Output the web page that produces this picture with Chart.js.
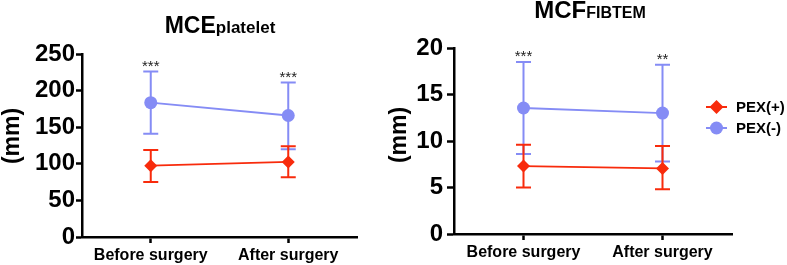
<!DOCTYPE html>
<html>
<head>
<meta charset="utf-8">
<script src="https://cdn.jsdelivr.net/npm/chart.js@4"></script>
<style>
  body { margin: 0; background: #fff; }
  #wrap { position: relative; width: 787px; height: 265px; overflow: hidden; }
  canvas { position: absolute; top: 0; }
  .ttl { position: absolute; text-align: center; font-family: "Liberation Sans", Arial, sans-serif; font-weight: bold; line-height: 1; color: #000; white-space: nowrap; }
  .ytl { position: absolute; width: 80px; height: 24px; margin-left: -40px; margin-top: -12px; text-align: center; transform: rotate(-90deg);
         font: bold 23px/24px "Liberation Sans", Arial, sans-serif; color: #000; }
</style>
</head>
<body>
<div id="wrap">
  <canvas id="plateletChart" width="390" height="265" style="left:0"></canvas>
  <canvas id="fibtemChart" width="407" height="265" style="left:380px"></canvas>
  <div class="ttl" style="left:0; width:440px; top:13.5px; font-size:23px">MCE<span style="font-size:17px">platelet</span></div>
  <div class="ttl" style="left:390px; width:400px; top:-2.5px; font-size:24px">MCF<span style="font-size:16px">FIBTEM</span></div>
  <div class="ytl" style="left:11px; top:136px">(mm)</div>
  <div class="ytl" style="left:397.5px; top:135px">(mm)</div>
</div>
<script>
const categories = ['Before surgery', 'After surgery'];
const seriesNames = ['PEX(+)', 'PEX(-)'];

// MCE platelet (mm)
const plateletPos = [97.5, 102.5];
const plateletPosHi = [119, 124];
const plateletPosLo = [75, 81.5];
const plateletNeg = [183.5, 166];
const plateletNegHi = [226, 211];
const plateletNegLo = [141, 120];
const plateletStars = ['***', '***'];
const plateletTicks = { max: 250, step: 50 };

// MCF FIBTEM (mm)
const fibtemPos = [7.3, 7.05];
const fibtemPosHi = [9.6, 9.45];
const fibtemPosLo = [5.0, 4.8];
const fibtemNeg = [13.55, 13.0];
const fibtemNegHi = [18.5, 18.2];
const fibtemNegLo = [8.6, 7.8];
const fibtemStars = ['***', '**'];
const fibtemTicks = { max: 20, step: 5 };

const RED = '#f82b0c';
const BLUE = '#858cf5';
const FONT = '"Liberation Sans", Arial, sans-serif';

// whiskers under the lines, stars over the PEX(-) bars
const errorBars = {
    id: 'errorBars',
    beforeDatasetsDraw(chart) {
        const ctx = chart.ctx;
        const xs = chart.scales.x, ys = chart.scales.y;
        ctx.save();
        for (let i = chart.data.datasets.length - 1; i >= 0; i--) {
            const ds = chart.data.datasets[i];
            ctx.strokeStyle = ds.borderColor;
            ctx.lineWidth = 2;
            ds.data.forEach((v, j) => {
                const px = xs.getPixelForValue(j);
                const top = ys.getPixelForValue(ds.errHi[j]);
                const bot = ys.getPixelForValue(ds.errLo[j]);
                ctx.beginPath();
                ctx.moveTo(px, top); ctx.lineTo(px, bot);
                ctx.moveTo(px - 7.5, top); ctx.lineTo(px + 7.5, top);
                ctx.moveTo(px - 7.5, bot); ctx.lineTo(px + 7.5, bot);
                ctx.stroke();
            });
        }
        ctx.restore();
    },
    afterDatasetsDraw(chart) {
        const ctx = chart.ctx;
        const xs = chart.scales.x, ys = chart.scales.y;
        const ds = chart.data.datasets[1];
        ctx.save();
        ctx.fillStyle = '#222';
        ctx.font = '15px ' + FONT;
        ctx.textAlign = 'center';
        ctx.textBaseline = 'alphabetic';
        ds.stars.forEach((s, j) => {
            ctx.fillText(s, xs.getPixelForValue(j), ys.getPixelForValue(ds.errHi[j]) - 1);
        });
        ctx.restore();
    }
};

// legend with line through marker, like the original
const sideLegend = {
    id: 'sideLegend',
    afterDraw(chart) {
        const ctx = chart.ctx;
        const x0 = 326, rows = [107, 128];
        ctx.save();
        chart.data.datasets.forEach((ds, i) => {
            const y = rows[i];
            ctx.strokeStyle = ds.borderColor;
            ctx.lineWidth = 2;
            ctx.beginPath();
            ctx.moveTo(x0, y); ctx.lineTo(x0 + 21, y);
            ctx.stroke();
            ctx.fillStyle = ds.borderColor;
            ctx.beginPath();
            if (i === 0) {
                ctx.moveTo(x0 + 10.5, y - 7); ctx.lineTo(x0 + 17.5, y);
                ctx.lineTo(x0 + 10.5, y + 7); ctx.lineTo(x0 + 3.5, y);
                ctx.closePath();
            } else {
                ctx.arc(x0 + 10.5, y, 6.5, 0, Math.PI * 2);
            }
            ctx.fill();
            ctx.fillStyle = '#000';
            ctx.font = 'bold 15px ' + FONT;
            ctx.textBaseline = 'middle';
            ctx.fillText(seriesNames[i], x0 + 30, y + 1);
        });
        ctx.restore();
    }
};

function buildChart(id, pos, posHi, posLo, neg, negHi, negLo, stars, ticks, box, extra) {
    const ctx = document.getElementById(id).getContext('2d');
    return new Chart(ctx, {
        type: 'line',
        data: {
            labels: categories,
            datasets: [{
                label: seriesNames[0],
                data: pos, errHi: posHi, errLo: posLo,
                borderColor: RED, backgroundColor: RED,
                borderWidth: 1.8,
                pointStyle: 'rectRot', pointRadius: 6.5,
                pointBorderWidth: 0
            }, {
                label: seriesNames[1],
                data: neg, errHi: negHi, errLo: negLo, stars: stars,
                borderColor: BLUE, backgroundColor: BLUE,
                borderWidth: 1.8,
                pointStyle: 'circle', pointRadius: 6.5,
                pointBorderWidth: 0
            }]
        },
        options: {
            responsive: false,
            animation: false,
            layout: { padding: { left: 0, top: box.top, right: box.right, bottom: 0 } },
            plugins: {
                legend: { display: false },
                tooltip: { enabled: false }
            },
            scales: {
                x: {
                    offset: true,
                    afterFit: s => { s.height = box.xh; },
                    border: { color: '#000', width: 2.5 },
                    grid: { offset: false, drawOnChartArea: false, tickLength: 6, tickColor: '#000', tickWidth: 2.5 },
                    ticks: {
                        color: '#000', padding: 3, maxRotation: 0,
                        font: { family: FONT, weight: 'bold', size: 16 }
                    }
                },
                y: {
                    min: 0, max: ticks.max,
                    afterFit: s => { s.width = box.yw; },
                    border: { color: '#000', width: 2.5 },
                    grid: { drawOnChartArea: false, tickLength: box.tl, tickColor: '#000', tickWidth: 2.5 },
                    ticks: {
                        stepSize: ticks.step, color: '#000', padding: box.tp,
                        font: { family: FONT, weight: 'bold', size: 24 }
                    }
                }
            }
        },
        plugins: extra
    });
}

window.onload = function () {
    buildChart('plateletChart', plateletPos, plateletPosHi, plateletPosLo,
        plateletNeg, plateletNegHi, plateletNegLo, plateletStars, plateletTicks,
        { top: 54, right: 33, xh: 28, yw: 82, tl: 6, tp: 1 }, [errorBars]);
    buildChart('fibtemChart', fibtemPos, fibtemPosHi, fibtemPosLo,
        fibtemNeg, fibtemNegHi, fibtemNegLo, fibtemStars, fibtemTicks,
        { top: 48, right: 55, xh: 31, yw: 74, tl: 7, tp: 4 }, [errorBars, sideLegend]);
};
</script>
</body>
</html>
